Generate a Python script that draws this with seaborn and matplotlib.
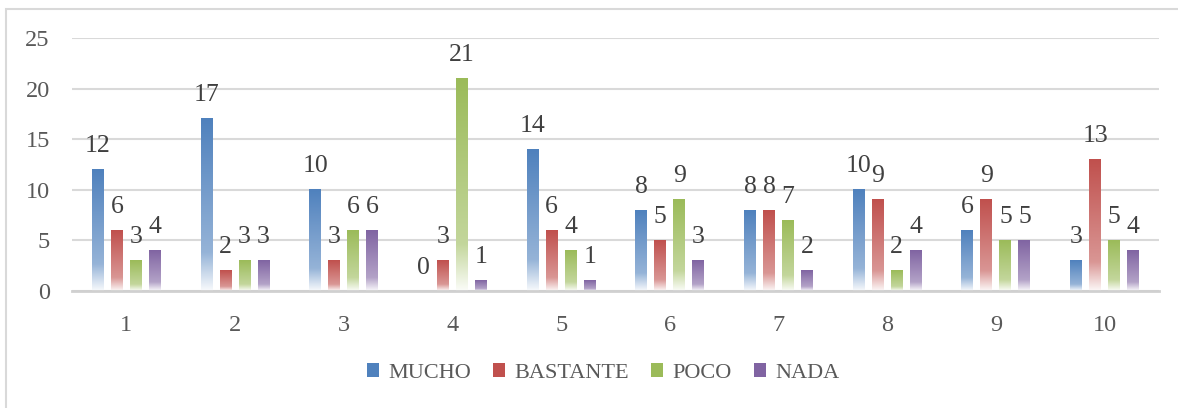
import numpy as np
import pandas as pd
import seaborn as sns
import matplotlib.pyplot as plt
import matplotlib.patches as patches
from matplotlib.colors import to_rgb

categories = ['1', '2', '3', '4', '5', '6', '7', '8', '9', '10']
series_names = ['MUCHO', 'BASTANTE', 'POCO', 'NADA']
mucho = [12, 17, 10, 0, 14, 8, 8, 10, 6, 3]
bastante = [6, 2, 3, 3, 6, 5, 8, 9, 9, 13]
poco = [3, 3, 6, 21, 4, 9, 7, 2, 5, 5]
nada = [4, 3, 6, 1, 1, 3, 2, 4, 5, 4]
y_ticks = [0, 5, 10, 15, 20, 25]

colors = ['#4F81BD', '#C0504D', '#9BBB59', '#8064A2']

rows = []
for name, vals in zip(series_names, [mucho, bastante, poco, nada]):
    for cat, v in zip(categories, vals):
        rows.append({'cat': cat, 'serie': name, 'valor': v})
df = pd.DataFrame(rows)

sns.set_style('white')
plt.rcParams['font.family'] = ['Liberation Serif', 'DejaVu Serif']

fig = plt.figure(figsize=(11.78, 4.08), dpi=100)
ax = fig.add_axes([72 / 1178, 1 - 291 / 408, (1159 - 72) / 1178, (291 - 38) / 408])

sns.barplot(data=df, x='cat', y='valor', hue='serie', order=categories,
            hue_order=series_names, palette=colors, width=0.7, gap=0.37,
            ax=ax, legend=False, zorder=3)


def gradient_image(color):
    # top: full colour, lighter lower down, almost white at the base
    c = np.array(to_rgb(color))
    w = np.ones(3)
    stops = [(0.0, 1.0), (0.78, 0.6), (1.0, 0.04)]
    t = np.linspace(0, 1, 200)
    amt = np.interp(t, [s[0] for s in stops], [s[1] for s in stops])
    img = amt[:, None] * c[None, :] + (1 - amt[:, None]) * w[None, :]
    return img[:, None, :]


for cont, col in zip(ax.containers, colors):
    img = gradient_image(col)
    for bar in cont:
        x, y = bar.get_x(), bar.get_y()
        w, h = bar.get_width(), bar.get_height()
        bar.set_facecolor('none')
        bar.set_edgecolor('none')
        if h > 0:
            ax.imshow(img, extent=[x, x + w, y, y + h], aspect='auto',
                      origin='upper', zorder=3, interpolation='bilinear')
    ax.bar_label(cont, padding=9, fontsize=18.5, color='#404040')

ax.set_xlim(-0.5, len(categories) - 0.5)
ax.set_ylim(0, 25)
ax.set_yticks(y_ticks)
ax.yaxis.grid(True, color='#D9D9D9', linewidth=1.5, zorder=0)
ax.set_axisbelow(True)
for s in ['top', 'right', 'left']:
    ax.spines[s].set_visible(False)
ax.spines['bottom'].set_color('#D0D0D0')
ax.spines['bottom'].set_linewidth(2)
ax.spines['bottom'].set_zorder(4)
ax.tick_params(axis='both', length=0, labelsize=17.5, colors='#595959')
ax.tick_params(axis='x', pad=17)
ax.tick_params(axis='y', pad=16)
ax.set_xlabel('')
ax.set_ylabel('')

handles = [patches.Patch(facecolor=c, edgecolor='none', label=n)
           for n, c in zip(series_names, colors)]
fig.legend(handles=handles, loc='center', bbox_to_anchor=(0.512, 1 - 373 / 408),
           ncol=4, frameon=False, fontsize=16, handlelength=0.55,
           handleheight=0.55, handletextpad=0.4, columnspacing=1.0,
           labelcolor='#595959')

# chart area border
fig.add_artist(patches.Rectangle((6 / 1178, -0.1), 1.2, 1 - 9 / 408 + 0.1,
                                 transform=fig.transFigure, fill=False,
                                 edgecolor='#D9D9D9', linewidth=1.5))

fig.savefig('out.png', dpi=100, facecolor='white')
